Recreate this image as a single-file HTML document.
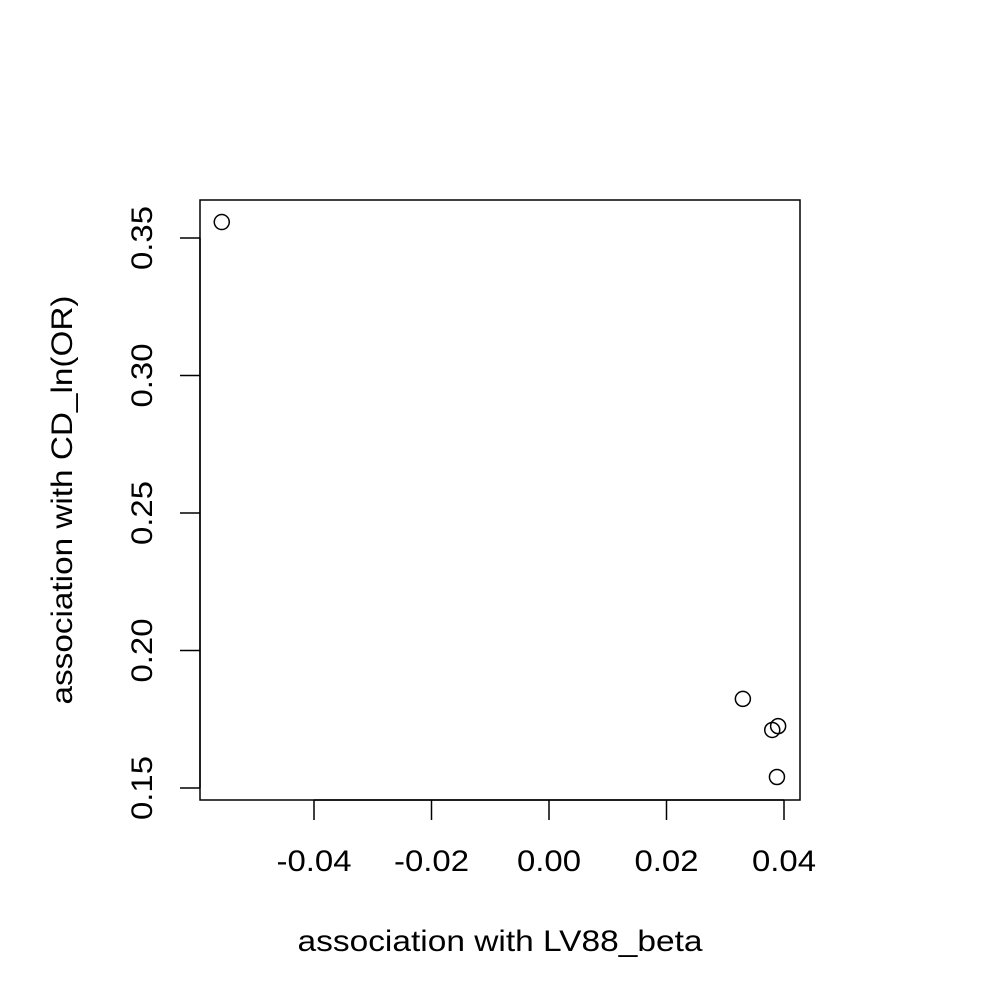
<!DOCTYPE html>
<html><head><meta charset="utf-8"><style>
body{margin:0;background:#fff}
svg text{font-family:"Liberation Sans",sans-serif;font-size:30px;fill:#000}
</style></head><body>
<svg width="1000" height="1000">
<rect x="200" y="200" width="600" height="600" fill="none" stroke="#000" stroke-width="1.5"/>
<g id="xaxis"></g>
<g id="yaxis"></g>
<g id="pts"></g>
<text x="500" y="951" text-anchor="middle" textLength="405" lengthAdjust="spacingAndGlyphs">association with LV88_beta</text>
<text transform="translate(72,500) rotate(-90)" text-anchor="middle" textLength="409" lengthAdjust="spacingAndGlyphs">association with CD_ln(OR)</text>
</svg>
<script>
const xTicks=[-0.04,-0.02,0,0.02,0.04];
const xTickLabels=["-0.04","-0.02","0.00","0.02","0.04"];
const yTicks=[0.15,0.20,0.25,0.30,0.35];
const yTickLabels=["0.15","0.20","0.25","0.30","0.35"];
const xValues=[-0.0557,0.0330,0.0380,0.0390,0.0388];
const yValues=[0.3558,0.1824,0.1711,0.1725,0.1540];
const NS="http://www.w3.org/2000/svg";
function sx(v){return 549+v*5875;}
function sy(v){return 788-(v-0.15)*2750;}
function mk(t,a){const e=document.createElementNS(NS,t);for(const k in a)e.setAttribute(k,a[k]);return e;}
const xa=document.getElementById('xaxis');
xa.appendChild(mk('line',{x1:sx(xTicks[0]),x2:sx(xTicks[xTicks.length-1]),y1:800,y2:800,stroke:'#000','stroke-width':1.5}));
xTicks.forEach((v,i)=>{
 const l=mk('line',{x1:sx(v),x2:sx(v),y1:800,y2:820,stroke:'#000','stroke-width':1.5});
 
 
 xa.appendChild(l);
 const lab=xTickLabels[i];
 const t=mk('text',{x:sx(v),y:871,'text-anchor':'middle',textLength:lab.length===5?75:64,lengthAdjust:'spacingAndGlyphs'});t.textContent=lab;
 
 
 xa.appendChild(t);
});
const ya=document.getElementById('yaxis');
ya.appendChild(mk('line',{x1:200,x2:200,y1:sy(yTicks[0]),y2:sy(yTicks[yTicks.length-1]),stroke:'#000','stroke-width':1.5}));
yTicks.forEach((v,i)=>{
 const l=mk('line',{x1:180,x2:200,y1:sy(v),y2:sy(v),stroke:'#000','stroke-width':1.5});
 
 
 ya.appendChild(l);
 const t=mk('text',{transform:`translate(152,${sy(v)}) rotate(-90)`,'text-anchor':'middle',textLength:64,lengthAdjust:'spacingAndGlyphs'});t.textContent=yTickLabels[i];
 
 
 ya.appendChild(t);
});
const pg=document.getElementById('pts');
xValues.forEach((v,i)=>{
 const c=mk('circle',{cx:sx(v),cy:sy(yValues[i]),r:7.5,fill:'none',stroke:'#000','stroke-width':1.5});
 
 
 pg.appendChild(c);
});
</script>
</body></html>
